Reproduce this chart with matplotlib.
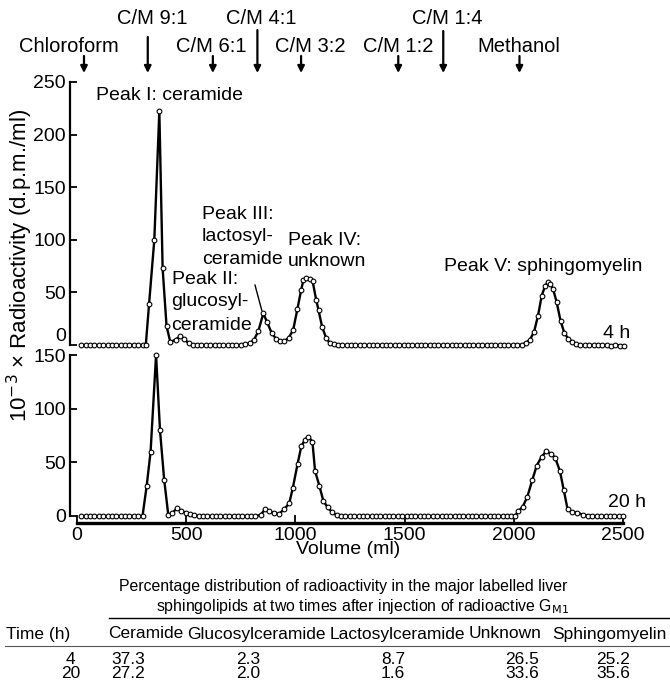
import matplotlib
matplotlib.use('Agg')
import matplotlib.pyplot as plt
from matplotlib.lines import Line2D

plt.rcParams['font.family'] = ['Liberation Sans', 'DejaVu Sans']

# ---------------- data ----------------
vol_4h = [20, 40, 60, 80, 100, 120, 140, 160, 180, 200, 220, 240, 260, 280, 300, 315,
          330, 354, 377, 392, 410, 427, 452, 472, 491, 511, 530,
          550, 570, 590, 610, 630, 650, 670, 690, 710, 730, 750,
          770, 790, 810, 830, 853, 871, 891, 911, 930, 950, 970, 990, 1009, 1026, 1037,
          1049, 1067, 1079, 1095, 1106, 1122, 1140, 1157, 1175,
          1195, 1215, 1235, 1255, 1275, 1295, 1315, 1335, 1355, 1375, 1395, 1415, 1435,
          1455, 1475, 1495, 1515, 1535, 1555, 1575, 1595, 1615, 1635, 1655, 1675, 1695,
          1715, 1735, 1755, 1775, 1795, 1815, 1835, 1855, 1875, 1895, 1915, 1935, 1955,
          1975, 1995, 2015,
          2036, 2055, 2074, 2093, 2111, 2128, 2143, 2155, 2168, 2180, 2196, 2214, 2232,
          2250, 2268, 2286,
          2305, 2325, 2345, 2365, 2385, 2405, 2425, 2445, 2465, 2485, 2505]
act_4h = [0, 0, 0, 0, 0, 0, 0, 0, 0, 0, 0, 0, 0, 0, 0, 0,
          39, 100, 222, 73, 18, 3, 5, 8.5, 6, 1.5, 0,
          0, 0, 0, 0, 0, 0, 0, 0, 0, 0, 0,
          0.5, 1.6, 4.8, 13, 30, 21.5, 11.5, 6, 3.5, 3.5, 7, 14.5, 34, 52, 62,
          64, 63, 60.5, 43, 33, 17.5, 7, 2, 0.5,
          0, 0, 0, 0, 0, 0, 0, 0, 0, 0, 0, 0, 0,
          0, 0, 0, 0, 0, 0, 0, 0, 0, 0, 0, 0, 0,
          0, 0, 0, 0, 0, 0, 0, 0, 0, 0, 0, 0, 0,
          0, 0, 0,
          0.3, 2, 5, 12.7, 28, 47, 56, 59.5, 58, 53, 41, 23, 11,
          6, 2.5, 0.5,
          0, 0, 0, 0, 0, 0, 0, -0.5, 0, -0.5, -0.5]

vol_20h = [20, 40, 60, 80, 100, 120, 140, 160, 180, 200, 220, 240, 260, 280, 300,
           319, 337, 362, 380, 399, 418, 437, 457, 477, 497, 517, 537,
           557, 577, 597, 617, 637, 657, 677, 697, 717, 737, 757, 777, 797, 817,
           841, 861, 880, 900, 925, 949, 972, 988, 1010, 1027, 1044, 1059, 1078, 1090,
           1110, 1128, 1148, 1166, 1189,
           1209, 1229, 1249, 1269, 1289, 1309, 1329, 1349, 1369, 1389, 1409, 1429, 1449,
           1469, 1489, 1509, 1529, 1549, 1569, 1589, 1609, 1629, 1649, 1669, 1689, 1709,
           1729, 1749, 1769, 1789, 1809, 1829, 1849, 1869, 1889, 1909, 1929, 1949, 1969, 1989,
           2005, 2021, 2041, 2062, 2085, 2105, 2127, 2149, 2169, 2189, 2211, 2229, 2246,
           2266, 2290, 2315, 2340,
           2360, 2380, 2400, 2420, 2440, 2460, 2480, 2500]
act_20h = [0, 0, 0, 0, 0, 0, 0, 0, 0, 0, 0, 0, 0, 0, 0,
           28, 60, 150, 80, 34, 1, 3, 7, 5, 3, 1.5, 0.5,
           0, 0, 0, 0, 0, 0, 0, 0, 0, 0, 0, 0, 0, 0,
           1, 6.3, 5, 2.5, 2, 6.3, 12, 26, 48.5, 65, 71, 74, 69, 42,
           28, 14, 8, 4, 0.5,
           0, 0, 0, 0, 0, 0, 0, 0, 0, 0, 0, 0, 0,
           0, 0, 0, 0, 0, 0, 0, 0, 0, 0, 0, 0, 0,
           0, 0, 0, 0, 0, 0, 0, 0, 0, 0, 0, 0, 0, 0,
           0, 4.5, 8.7, 18, 33.7, 47, 55, 60.5, 58, 54.5, 42, 24, 6.5,
           3.5, 3.2, 1.3, 0.3,
           0, 0, 0, 0, 0, 0, 0, 0]

solvent_labels = ['Chloroform', 'C/M 9:1', 'C/M 6:1', 'C/M 4:1', 'C/M 3:2',
                  'C/M 1:2', 'C/M 1:4', 'Methanol']
solvent_ml = [32, 324, 622, 826, 1026, 1471, 1677, 2026]

x_ticks = [0, 500, 1000, 1500, 2000, 2500]
y_ticks_top = [0, 50, 100, 150, 200, 250]
y_ticks_bottom = [0, 50, 100, 150]

table_header = ['Time (h)', 'Ceramide', 'Glucosylceramide', 'Lactosylceramide',
                'Unknown', 'Sphingomyelin']
table_rows = [['4', '37.3', '2.3', '8.7', '26.5', '25.2'],
              ['20', '27.2', '2.0', '1.6', '33.6', '35.6']]

# ---------------- layout helpers ----------------
W, H = 670, 688
fig = plt.figure(figsize=(W / 100, H / 100), dpi=100)


def fx(px):
    return px / W


def fy(py):
    return 1 - py / H


FS = 14
X0, X1 = 77, 623
ax1 = fig.add_axes([fx(X0), fy(345), fx(X1) - fx(X0), fy(82) - fy(345)])
ax2 = fig.add_axes([fx(X0), fy(522.5), fx(X1) - fx(X0), fy(355) - fy(522.5)])

ax1.set_xlim(0, 2500)
ax1.set_ylim(0, 250)
ax2.set_xlim(0, 2500)
ax2.set_ylim(-6.06, 150)

for ax in (ax1, ax2):
    ax.patch.set_alpha(0)
    ax.spines['top'].set_visible(False)
    ax.spines['right'].set_visible(False)
    ax.spines['left'].set_position(('outward', 5))
    ax.spines['left'].set_linewidth(1.6)
    ax.tick_params(axis='y', direction='in', length=5, width=1.3,
                   labelsize=FS, pad=3)

ax1.spines['bottom'].set_visible(False)
ax1.set_xticks([])
ax1.set_yticks(y_ticks_top)
ax1.spines['left'].set_bounds(0, 250)
# keep the top panel's "0" clear of the lower panel's "150"
ax1.get_yticklabels()[0].set_va('bottom')

ax2.set_yticks(y_ticks_bottom)
ax2.spines['left'].set_bounds(0, 150)
ax2.set_xticks(x_ticks)
ax2.spines['bottom'].set_linewidth(2.4)
ax2.tick_params(axis='x', direction='in', length=6, width=1.3,
                labelsize=FS, pad=3)

style = dict(color='black', lw=1.7, marker='o', ms=3.4, mfc='white',
             mec='black', mew=0.8, clip_on=False, zorder=3)
ax1.plot(vol_4h, act_4h, **style)
ax2.plot(vol_20h, act_20h, **style)

# ---------------- annotations (top panel) ----------------
ax1.text(87, 237.6, 'Peak I: ceramide', fontsize=FS, va='center', ha='left')
for t, y in zip(['Peak II:', 'glucosyl-', 'ceramide'], [61.8, 40.9, 19]):
    ax1.text(433, y, t, fontsize=FS, va='center', ha='left')
for t, y in zip(['Peak III:', 'lactosyl-', 'ceramide'], [123.6, 102.7, 81.7]):
    ax1.text(571, y, t, fontsize=FS, va='center', ha='left')
ax1.add_line(Line2D([815, 846], [57, 33], color='black', lw=1.0))
for t, y in zip(['Peak IV:', 'unknown'], [99.8, 79.8]):
    ax1.text(965, y, t, fontsize=FS, va='center', ha='left')
ax1.text(1680, 75, 'Peak V: sphingomyelin', fontsize=FS, va='center', ha='left')
ax1.text(2408, 11.4, '4 h', fontsize=FS, va='center', ha='left')
ax2.text(2431, 12.4, '20 h', fontsize=FS, va='center', ha='left')

# ---------------- solvent arrows ----------------
label_px = [69, 152.5, 211.5, 261, 310, 398, 447.6, 519]
label_py = [47, 18, 47, 18, 47, 47, 18, 47]
arrow_top = [56, 37, 56, 30, 56, 56, 31, 56]
tip_py = 73
for lab, ml, lx, ly, at in zip(solvent_labels, solvent_ml, label_px, label_py, arrow_top):
    fig.text(fx(lx), fy(ly), lab, fontsize=14.5, ha='center', va='center')
    ax1.annotate('', xy=(ml, fy(tip_py)), xycoords=('data', 'figure fraction'),
                 xytext=(ml, fy(at)), textcoords=('data', 'figure fraction'),
                 arrowprops=dict(arrowstyle='-|>', lw=1.6, color='black',
                                 mutation_scale=10, shrinkA=0, shrinkB=0),
                 annotation_clip=False)

# ---------------- axis labels ----------------
fig.text(fx(20), fy(265), '10$^{-3}$ × Radioactivity (d.p.m./ml)', rotation=90,
         ha='center', va='center', fontsize=16)
fig.text(fx(348), fy(550), 'Volume (ml)', ha='center', va='center', fontsize=FS)

# ---------------- table ----------------
CFS = 11.4
TFS = 12.5
fig.text(fx(343), fy(587), 'Percentage distribution of radioactivity in the major labelled liver',
         ha='center', va='center', fontsize=CFS)
fig.text(fx(363), fy(607), 'sphingolipids at two times after injection of radioactive G$_{\\mathrm{M1}}$',
         ha='center', va='center', fontsize=CFS)
fig.add_artist(Line2D([fx(109), fx(670)], [fy(618), fy(618)], color='black', lw=1.0))
head_px = [6, 108, 187, 330, 469]
for t, x in zip(table_header[:5], head_px):
    fig.text(fx(x), fy(634), t, ha='left', va='center', fontsize=TFS)
fig.text(fx(667), fy(634), table_header[5], ha='right', va='center', fontsize=TFS)
fig.add_artist(Line2D([fx(5), fx(670)], [fy(646), fy(646)], color='#555555', lw=0.8))
col_px = [70.7, 128.5, 248, 393, 522.5, 613]
for row, y in zip(table_rows, [659, 673]):
    for t, x in zip(row, col_px):
        fig.text(fx(x), fy(y), t, ha='center', va='center', fontsize=TFS)

fig.savefig('out.png', dpi=100)
